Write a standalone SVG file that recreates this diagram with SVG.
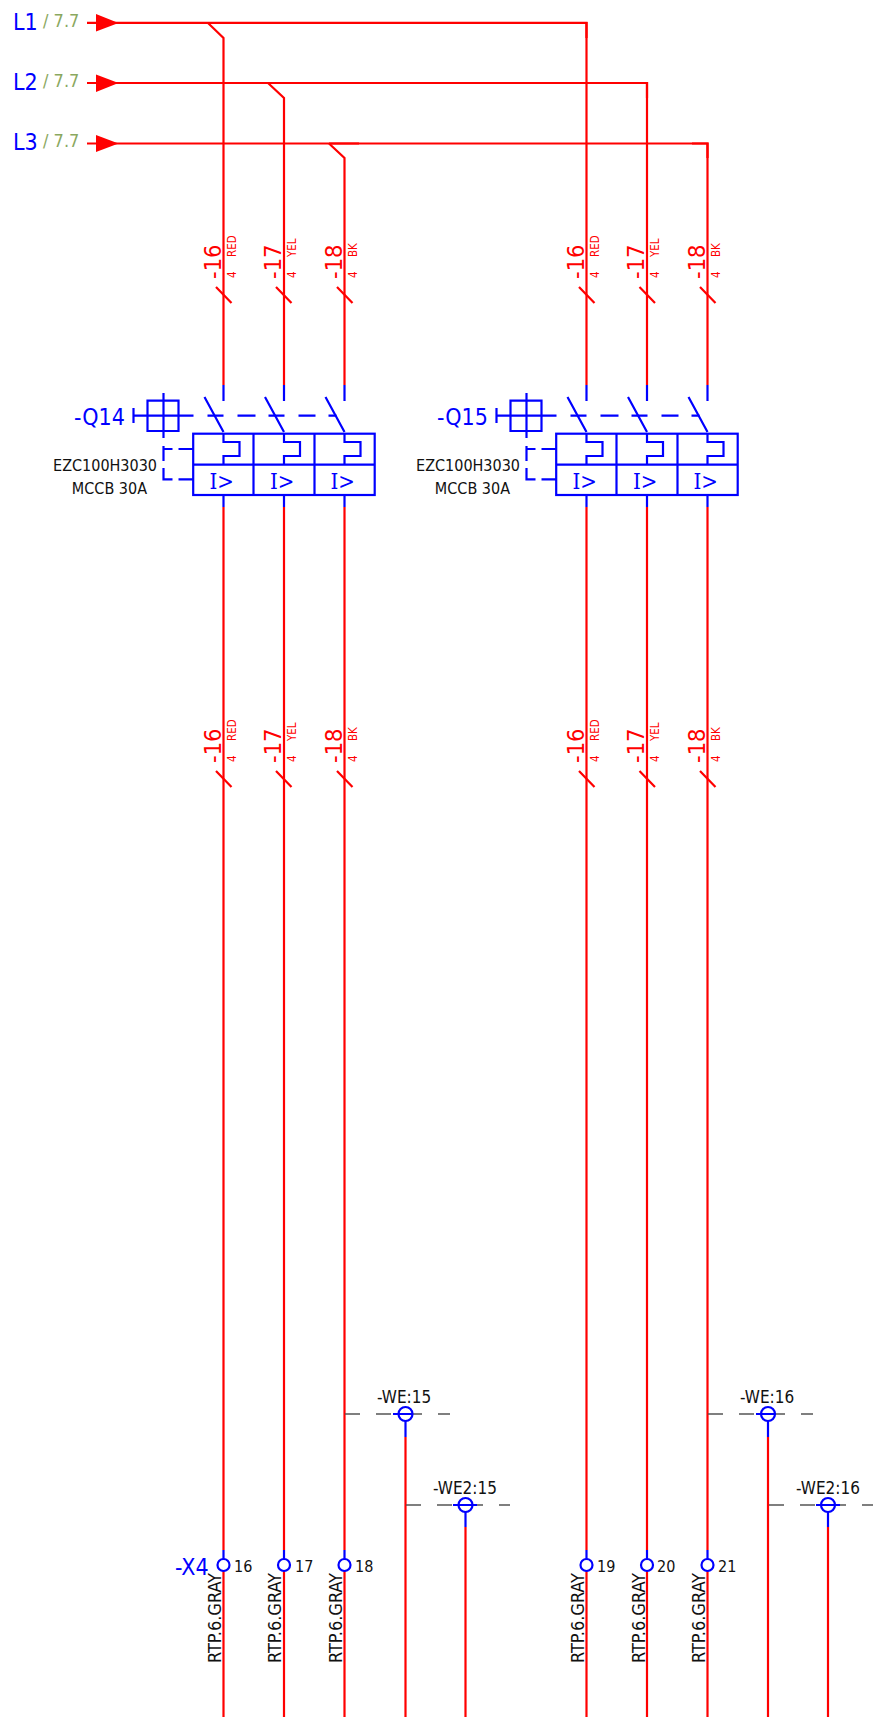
<svg xmlns="http://www.w3.org/2000/svg" width="874" height="1718" viewBox="0 0 874 1718">
<defs><style>
text{font-family:"DejaVu Sans",sans-serif;font-stretch:condensed}
.r{fill:none;stroke:#ff0000;stroke-width:2.2}
.b{fill:none;stroke:#0000ff;stroke-width:2.2}
.g{fill:none;stroke:#555;stroke-width:1.4;stroke-dasharray:15 16}
.n{fill:#111;font-size:16px}
.t{fill:#111;font-size:18px}
.w{fill:#111;font-size:17px}
.rt{fill:#f00;font-size:23.5px}
.rs{fill:#f00;font-size:11.5px}
.bl{fill:#00f;font-size:23px}
.gr{fill:#8aa860;font-size:18px}
.i{fill:#00f;font-size:22px;font-family:"DejaVu Serif",serif}
</style>
<g id="brk">
<path class="b" d="M30 385V401M90.500 385V401M151 385V401"/>
<path class="b" d="M11 397L30 432M71.500 397L90.500 432M132 397L151 432"/>
<path class="b" d="M-60 415.700H0M14 415.700H30M44 415.700H62M75 415.700H91M105 415.700H122M135 415.700H143"/>
<path class="b" d="M-60 408V423M-46 400.700H-15V431H-46ZM-30 393V438"/>
<rect class="b" x="-0.300" y="433.700" width="181.500" height="61.300"/>
<path class="b" d="M0 464.700H181M60 434V495M121 434V495"/>
<path class="b" d="M30 434V442H46V456H30V465M90.500 434V442H106.500V456H90.500V465M151 434V442H167V456H151V465"/>
<path class="b" d="M-30 446V461M-30 468V479.300H-21M-15 479.300H0M-30 449H-21M-15 449H0"/>
<path class="b" d="M30 495V507M90.500 495V507M151 495V507"/>
<text class="i" x="16" y="489">I&gt;</text>
<text class="i" x="76.500" y="489">I&gt;</text>
<text class="i" x="137" y="489">I&gt;</text>
</g>
</defs>
<g id="connectors">
<path class="r" d="M87 22.800H586.500V385M87 83H647V385M87 143.500H707.500V385"/>
<path class="r" d="M208 23H238M268 83H298M329 143.500H359M571 23H586.500V38M632 83H647V98M692 143.500H707.500V158"/>
<path class="r" d="M208 23L223.500 38V385M268 83L284 98V385M329 143.500L344.500 158V385"/>
<path class="r" d="M223.500 507V1550M284 507V1550M344.500 507V1550M586.500 507V1550M647 507V1550M707.500 507V1550"/>
<path class="r" d="M223.500 1571V1717M284 1571V1717M344.500 1571V1717M586.500 1571V1717M647 1571V1717M707.500 1571V1717M405.500 1437V1717M465.500 1527V1717M768 1437V1717M828 1527V1717"/>
<path class="r" d="M216 287L231.500 303M276 287L291.500 303M337 287L352.500 303M579 287L594.500 303M639.500 287L655 303M700 287L715.500 303M216 771L231.500 787M276 771L291.500 787M337 771L352.500 787M579 771L594.500 787M639.500 771L655 787M700 771L715.500 787"/>
<path class="g" d="M345 1414H450M406 1505H510M708 1414H813M769 1505H873"/>
<path class="b" d="M393 1414H413M405.500 1421V1437M453 1505H477M465.500 1512V1527M756 1414H776M768 1421V1437M816 1505H840M828 1512V1527"/>
</g>
<g id="L1"><path fill="#f00" d="M96 14L118.500 23L96 31.500Z"/><text class="bl" x="13" y="29.500">L1</text><text class="gr" x="43" y="27">/ 7.7</text></g>
<g id="L2"><path fill="#f00" d="M96 74.500L118.500 83L96 92Z"/><text class="bl" x="13" y="89.500">L2</text><text class="gr" x="43" y="87">/ 7.7</text></g>
<g id="L3"><path fill="#f00" d="M96 135L118.500 143.500L96 152Z"/><text class="bl" x="13" y="150">L3</text><text class="gr" x="43" y="147">/ 7.7</text></g>
<g id="Q14"><use href="#brk" x="193.500"/><text class="bl" x="74" y="425">-Q14</text><text class="n" x="157" y="471" text-anchor="end">EZC100H3030</text><text class="n" x="147" y="493.500" text-anchor="end">MCCB 30A</text></g>
<g id="Q15"><use href="#brk" x="556.500"/><text class="bl" x="437" y="425">-Q15</text><text class="n" x="520" y="471" text-anchor="end">EZC100H3030</text><text class="n" x="510" y="493.500" text-anchor="end">MCCB 30A</text></g>
<g id="labels-top">
<text class="rt" transform="translate(220.500 279) rotate(-90)">-16</text><text class="rs" transform="translate(235.500 278) rotate(-90)">4</text><text class="rs" transform="translate(235.500 257) rotate(-90)">RED</text>
<text class="rt" transform="translate(281 279) rotate(-90)">-17</text><text class="rs" transform="translate(296 278) rotate(-90)">4</text><text class="rs" transform="translate(296 257) rotate(-90)">YEL</text>
<text class="rt" transform="translate(341.500 279) rotate(-90)">-18</text><text class="rs" transform="translate(356.500 278) rotate(-90)">4</text><text class="rs" transform="translate(356.500 257) rotate(-90)">BK</text>
<text class="rt" transform="translate(583.500 279) rotate(-90)">-16</text><text class="rs" transform="translate(598.500 278) rotate(-90)">4</text><text class="rs" transform="translate(598.500 257) rotate(-90)">RED</text>
<text class="rt" transform="translate(644 279) rotate(-90)">-17</text><text class="rs" transform="translate(659 278) rotate(-90)">4</text><text class="rs" transform="translate(659 257) rotate(-90)">YEL</text>
<text class="rt" transform="translate(704.500 279) rotate(-90)">-18</text><text class="rs" transform="translate(719.500 278) rotate(-90)">4</text><text class="rs" transform="translate(719.500 257) rotate(-90)">BK</text>
</g>
<g id="labels-mid">
<text class="rt" transform="translate(220.500 763) rotate(-90)">-16</text><text class="rs" transform="translate(235.500 762) rotate(-90)">4</text><text class="rs" transform="translate(235.500 741) rotate(-90)">RED</text>
<text class="rt" transform="translate(281 763) rotate(-90)">-17</text><text class="rs" transform="translate(296 762) rotate(-90)">4</text><text class="rs" transform="translate(296 741) rotate(-90)">YEL</text>
<text class="rt" transform="translate(341.500 763) rotate(-90)">-18</text><text class="rs" transform="translate(356.500 762) rotate(-90)">4</text><text class="rs" transform="translate(356.500 741) rotate(-90)">BK</text>
<text class="rt" transform="translate(583.500 763) rotate(-90)">-16</text><text class="rs" transform="translate(598.500 762) rotate(-90)">4</text><text class="rs" transform="translate(598.500 741) rotate(-90)">RED</text>
<text class="rt" transform="translate(644 763) rotate(-90)">-17</text><text class="rs" transform="translate(659 762) rotate(-90)">4</text><text class="rs" transform="translate(659 741) rotate(-90)">YEL</text>
<text class="rt" transform="translate(704.500 763) rotate(-90)">-18</text><text class="rs" transform="translate(719.500 762) rotate(-90)">4</text><text class="rs" transform="translate(719.500 741) rotate(-90)">BK</text>
</g>
<g id="X4">
<text class="bl" x="175" y="1575">-X4</text>
<g class="b"><path d="M223.500 1550V1559M284 1550V1559M344.500 1550V1559M586.500 1550V1559M647 1550V1559M707.500 1550V1559"/>
<circle cx="223.500" cy="1565" r="6"/><circle cx="284" cy="1565" r="6"/><circle cx="344.500" cy="1565" r="6"/><circle cx="586.500" cy="1565" r="6"/><circle cx="647" cy="1565" r="6"/><circle cx="707.500" cy="1565" r="6"/></g>
<text class="n" x="234" y="1571.500">16</text><text class="n" x="295" y="1571.500">17</text><text class="n" x="355" y="1571.500">18</text><text class="n" x="597" y="1571.500">19</text><text class="n" x="657" y="1571.500">20</text><text class="n" x="718" y="1571.500">21</text>
<text class="t" transform="translate(221 1663) rotate(-90)">RTP.6.GRAY</text><text class="t" transform="translate(281 1663) rotate(-90)">RTP.6.GRAY</text><text class="t" transform="translate(342 1663) rotate(-90)">RTP.6.GRAY</text><text class="t" transform="translate(584 1663) rotate(-90)">RTP.6.GRAY</text><text class="t" transform="translate(645 1663) rotate(-90)">RTP.6.GRAY</text><text class="t" transform="translate(705 1663) rotate(-90)">RTP.6.GRAY</text>
</g>
<g id="WE15"><circle class="b" cx="405.500" cy="1414" r="7"/><text class="w" x="377" y="1402.500">-WE:15</text></g>
<g id="WE215"><circle class="b" cx="465.500" cy="1505" r="7"/><text class="w" x="433" y="1493.500">-WE2:15</text></g>
<g id="WE16"><circle class="b" cx="768" cy="1414" r="7"/><text class="w" x="740" y="1402.500">-WE:16</text></g>
<g id="WE216"><circle class="b" cx="828" cy="1505" r="7"/><text class="w" x="796" y="1493.500">-WE2:16</text></g>
</svg>
